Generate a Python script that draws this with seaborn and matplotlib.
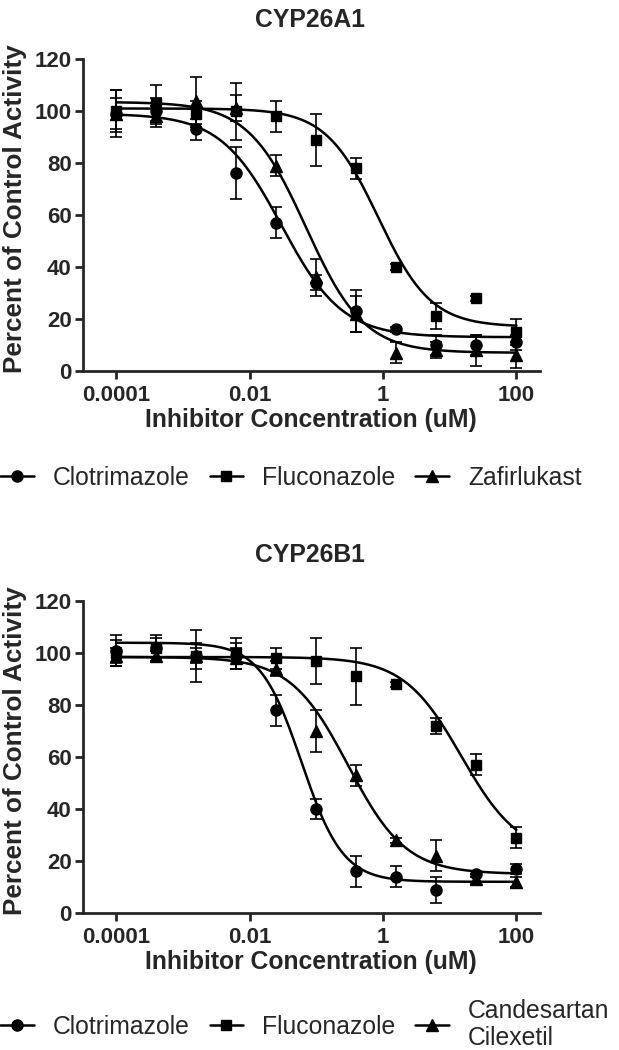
import numpy as np
import pandas as pd
import matplotlib
matplotlib.use("Agg")
import matplotlib.pyplot as plt
from matplotlib.lines import Line2D
import seaborn as sns

sns.set_style("ticks")
plt.rcParams["font.family"] = ["Liberation Sans", "DejaVu Sans"]

# inhibitor concentrations (uM), 4-fold serial dilution
conc = [0.0001, 0.000398, 0.00158, 0.00631, 0.0251, 0.1, 0.398, 1.58, 6.31, 25.1, 100]

# CYP26A1 panel
clo_a = [99, 100, 93, 76, 57, 34, 23, 16, 10, 10, 11]
clo_a_sd = [9, 5, 4, 10, 6, 3, 8, 1, 4, 4, 3]
flu_a = [100, 103, 99, 100, 98, 89, 78, 40, 21, 28, 15]
flu_a_sd = [8, 7, 5, 11, 6, 10, 4, 1, 5, 1, 5]
zaf_a = [99, 98, 104, 101, 79, 36, 22, 7, 8, 8, 6]
zaf_a_sd = [6, 4, 9, 5, 4, 7, 7, 4, 3, 6, 5]

# CYP26B1 panel
clo_b = [101, 102, 99, 99, 78, 40, 16, 14, 9, 15, 17]
clo_b_sd = [6, 5, 5, 5, 6, 4, 6, 4, 5, 1, 2]
flu_b = [100, 102, 99, 100, 98, 97, 91, 88, 72, 57, 29]
flu_b_sd = [5, 4, 10, 6, 4, 9, 11, 1, 3, 4, 4]
can_b = [99, 99, 99, 98, 94, 70, 53, 28, 22, 13, 12]
can_b_sd = [3, 2, 3, 4, 3, 8, 4, 1, 6, 2, 2]

# fitted 4-parameter logistic curves: top, bottom, IC50, hill
fit_a = {"Clotrimazole": (99, 13, 0.03, 0.95),
         "Fluconazole": (101, 17, 0.85, 1.1),
         "Zafirlukast": (103.5, 7, 0.07, 1.0)}
fit_b = {"Clotrimazole": (104, 12, 0.06, 1.4),
         "Fluconazole": (98.5, 22, 15, 1.0),
         "Candesartan\nCilexetil": (98.5, 15, 0.3, 1.0)}

markers = ["o", "s", "^"]
msizes = [8, 7.5, 8.5]


def logistic(x, top, bottom, ic50, hill):
    return bottom + (top - bottom) / (1 + (x / ic50) ** hill)


fig = plt.figure(figsize=(6.19, 10.5), dpi=100)
ax1 = fig.add_axes([0.134, 0.6467, 0.738, 0.297])
ax2 = fig.add_axes([0.134, 0.1305, 0.738, 0.297])

panels = [
    (ax1, "CYP26A1", fit_a, [(clo_a, clo_a_sd), (flu_a, flu_a_sd), (zaf_a, zaf_a_sd)], 1.125, 0.545),
    (ax2, "CYP26B1", fit_b, [(clo_b, clo_b_sd), (flu_b, flu_b_sd), (can_b, can_b_sd)], 1.147, 0.0245),
]

xs = np.logspace(-4, 2, 300)
for ax, title, fits, series, ty, ly in panels:
    for (name, p), (vals, sd), m, ms in zip(fits.items(), series, markers, msizes):
        curve = pd.DataFrame({"x": xs, "y": logistic(xs, *p)})
        sns.lineplot(data=curve, x="x", y="y", ax=ax, color="black", lw=1.8)
        ax.errorbar(conc, vals, yerr=sd, fmt=m, color="black", ms=ms,
                    capsize=4.3, elinewidth=1.2, capthick=1.2)
    ax.set_xscale("log")
    ax.set_xlim(10 ** -4.5, 10 ** 2.35)
    ax.set_ylim(0, 120)
    ax.set_xticks([1e-4, 1e-2, 1, 100])
    ax.set_xticklabels(["0.0001", "0.01", "1", "100"])
    ax.set_yticks(range(0, 121, 20))
    ax.minorticks_off()
    ax.tick_params(axis="both", length=6, width=2, labelsize=16)
    ax.tick_params(axis="x", pad=4)
    ax.tick_params(axis="y", pad=2)
    for lab in ax.get_xticklabels() + ax.get_yticklabels():
        lab.set_fontweight("bold")
    for s in ["left", "bottom"]:
        ax.spines[s].set_linewidth(2)
    sns.despine(ax=ax)
    ax.set_xlabel("Inhibitor Concentration (uM)", fontsize=17.8, fontweight="bold")
    ax.set_ylabel("Percent of Control Activity", fontsize=18.8, fontweight="bold")
    ax.xaxis.set_label_coords(0.499, -0.118)
    ax.yaxis.set_label_coords(-0.1225, 0.52)
    ax.text(0.497, ty, title, transform=ax.transAxes, ha="center", va="center",
            fontsize=17.8, fontweight="bold")

    handles = [Line2D([0], [0], color="black", lw=1.8, marker=m, ms=ms)
               for m, ms in zip(markers, msizes)]
    leg = fig.legend(handles, list(fits.keys()), loc="center left", bbox_to_anchor=(0.0, ly),
                     ncol=3, frameon=False, fontsize=17.8, handlelength=1.36,
                     handletextpad=0.77, columnspacing=0.81, borderpad=0, borderaxespad=0)
    for t in leg.get_texts():
        t.set_linespacing(1.15)

fig.savefig("out.png", dpi=100)
